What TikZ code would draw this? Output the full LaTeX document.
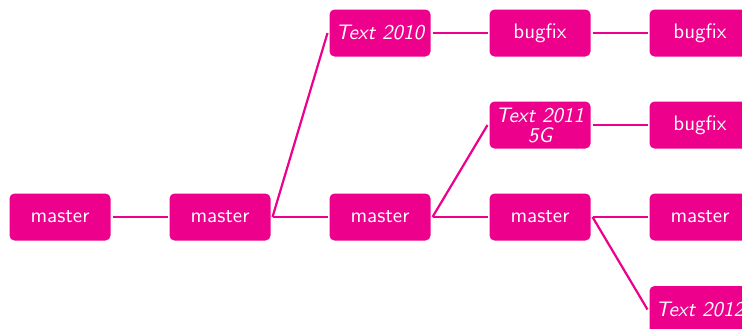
\documentclass[tikz,border=0pt]{standalone}
\usepackage{tikz}
\usetikzlibrary{positioning}
\definecolor{tmagenta}{RGB}{236,0,140}
\tikzset{
commit/.style={rectangle,rounded corners=2.5pt,fill=tmagenta,text=white,
  minimum width=50.5pt,minimum height=23.5pt,inner sep=1pt,outer sep=1pt,
  font=\sffamily\fontsize{10.5}{11}\selectfont,align=center},
tagcommit/.style={commit,font=\sffamily\itshape\fontsize{10.5}{11}\selectfont},
branch/.style={draw=tmagenta,line width=1.1pt}
}

\begin{document}
\begin{tikzpicture}[x=0.5pt,y=-0.5pt]
\useasboundingbox (0,0) rectangle (742,328);
        % main line
        \node[commit] (m1) at (60,217) {master};
        \node[commit] (m2) at (220,217) {master};
        \node[commit] (m3) at (380,217) {master};
        \node[commit] (m4) at (540,217) {master};
        \node[commit] (m5) at (700,217) {master};
        % releases
        \node[tagcommit,inner sep=0pt] (t2011) at (540,125) {Text 2011\\[-1pt]5G};
        \node[tagcommit] (t2010) at (380,33) {Text 2010};
        \node[tagcommit] (t2012) at (700,309.5) {Text 2012};
        \node[commit] (b1) at (540,33) {bugfix};
        \node[commit] (b2) at (700,33) {bugfix};
        \node[commit] (b3) at (700,125) {bugfix};
        % edges
        \draw[branch] (m1.east) -- (m2.west);
        \draw[branch] (m2.east) -- (m3.west);
        \draw[branch] (m3.east) -- (m4.west);
        \draw[branch] (m4.east) -- (m5.west);
        \draw[branch] (m2.east) -- (t2010.west);
        \draw[branch] (m3.east) -- (t2011.west);
        \draw[branch] (m4.east) -- (t2012.west);
        \draw[branch] (t2010.east) -- (b1.west);
        \draw[branch] (b1.east) -- (b2.west);
        \draw[branch] (t2011.east) -- (b3.west);
\end{tikzpicture}
\end{document}
